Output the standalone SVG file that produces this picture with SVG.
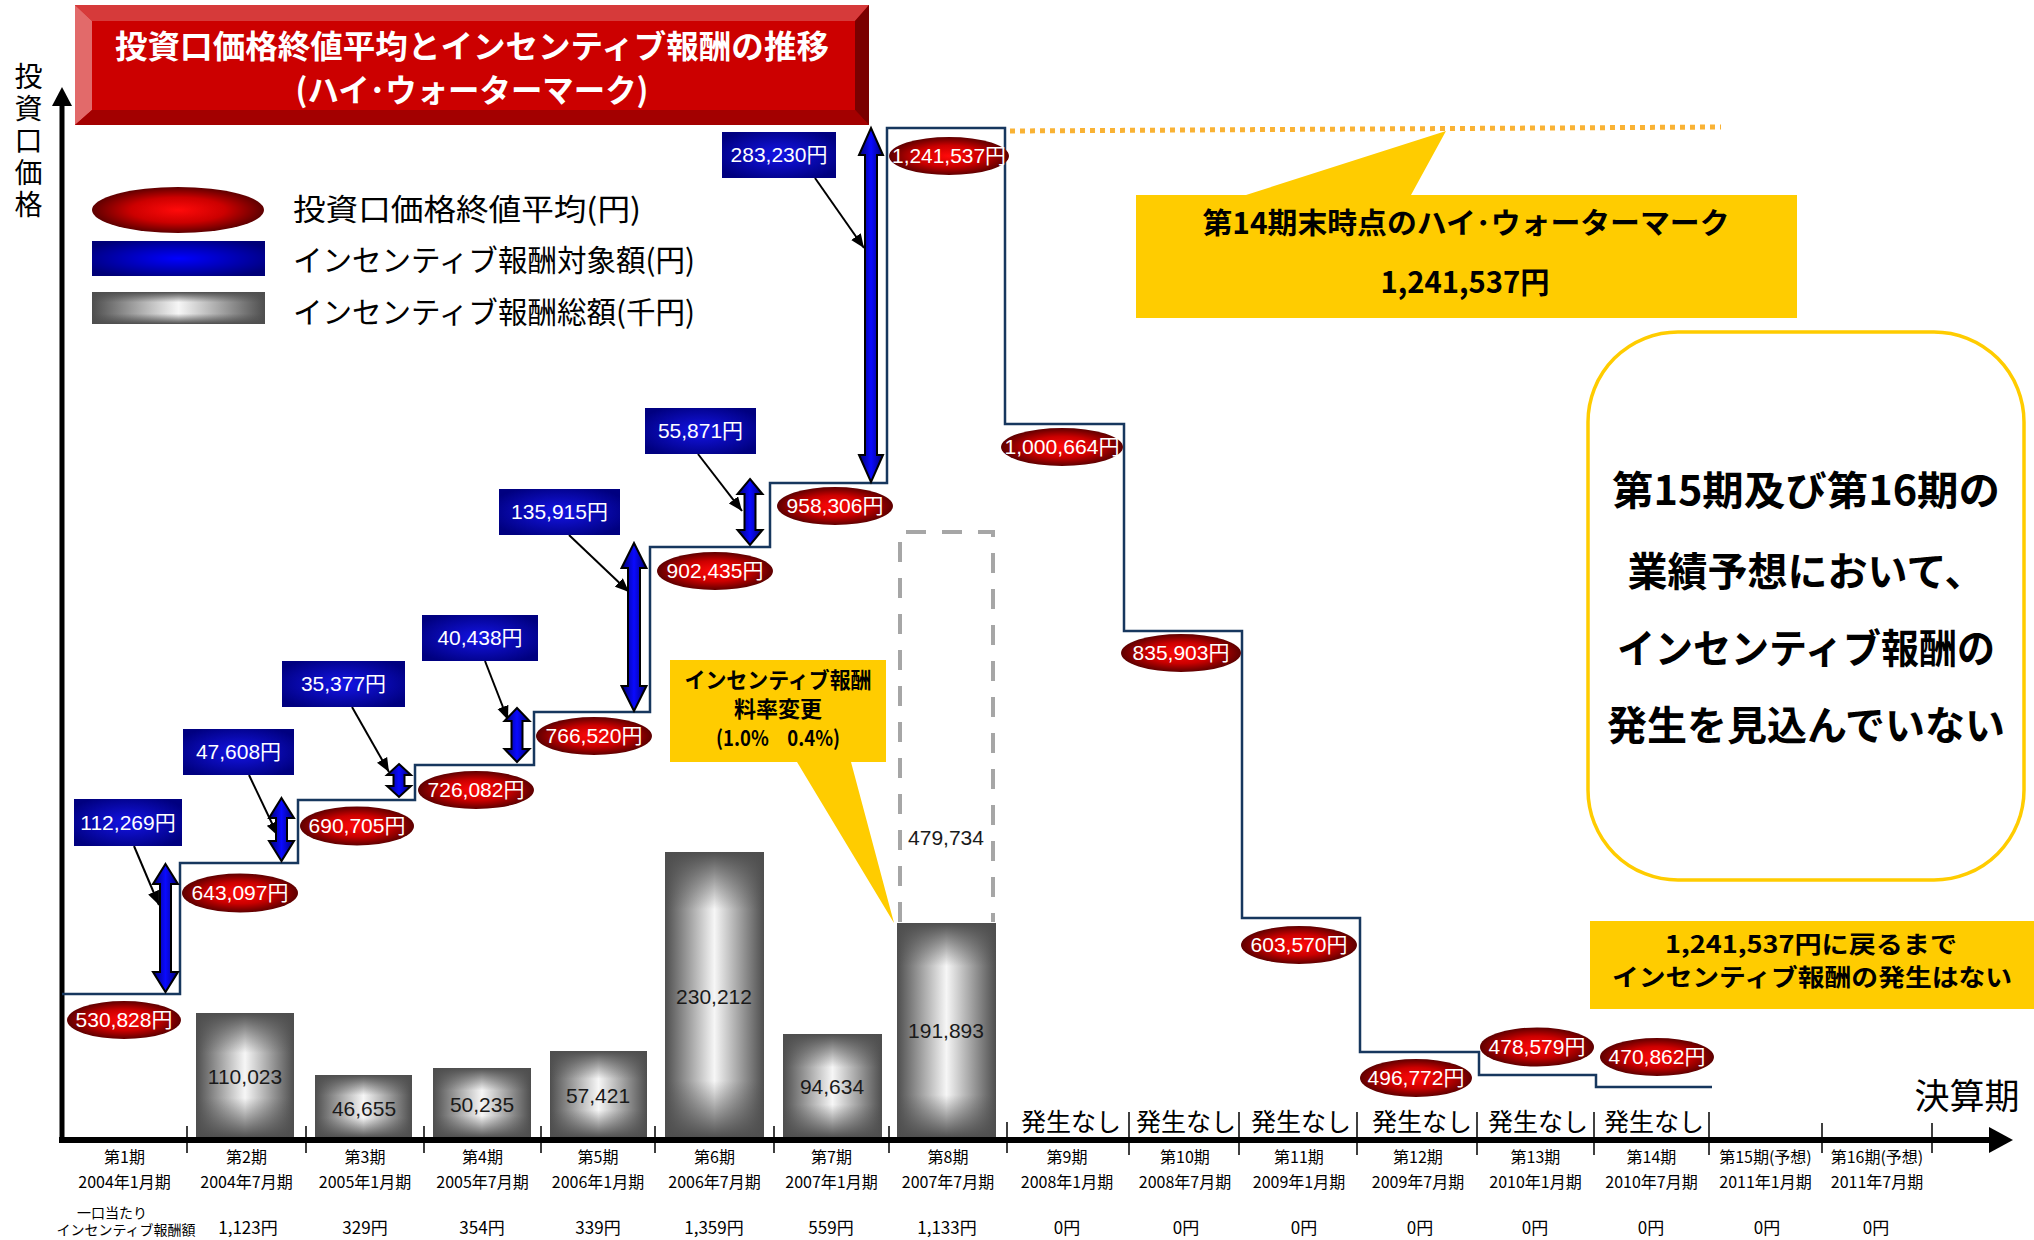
<svg xmlns="http://www.w3.org/2000/svg" width="2034" height="1240" viewBox="0 0 2034 1240">
<style>
text{font-family:"Liberation Sans","Noto Sans CJK JP",sans-serif}
.jp{font-family:"Noto Sans CJK JP","Liberation Sans",sans-serif}
.b{font-weight:bold}
.ell{fill:url(#gRed)}
.et{fill:#fff;font-size:21px;text-anchor:middle}
.bbox{fill:url(#gNavy)}
.bt{fill:#fff;font-size:21px;text-anchor:middle}
.dbl{fill:url(#gArrow);stroke:#000;stroke-width:2}
.ptr{stroke:#000;stroke-width:2;fill:none;marker-end:url(#ah)}
.barh{fill:url(#gBarH)}
.barv{fill:url(#gBarV)}
.barvt{fill:url(#gBarVt)}
.bv{font-size:21px;fill:#1a1a1a;text-anchor:middle}
.step{fill:none;stroke:#17375e;stroke-width:2.5}
.ax{font-size:16px;fill:#000;text-anchor:middle}
.val{font-size:17px;fill:#000;text-anchor:middle}
.nashi{font-size:25px;fill:#000;text-anchor:middle}
.yel{fill:#ffcc00}
.tick{stroke:#000;stroke-width:1.5}
.leg{font-size:30px;fill:#000}
</style>
<defs>
<radialGradient id="gRed" cx="0.5" cy="0.5" r="0.5">
<stop offset="0" stop-color="#ff0a0a"/><stop offset="0.55" stop-color="#cc0000"/><stop offset="1" stop-color="#5e0000"/>
</radialGradient>
<radialGradient id="gNavy" cx="0.5" cy="0.5" r="0.6">
<stop offset="0" stop-color="#1414e6"/><stop offset="1" stop-color="#000080"/>
</radialGradient>
<radialGradient id="gBlueLeg" cx="0.5" cy="0.5" r="0.6">
<stop offset="0" stop-color="#0000ff"/><stop offset="1" stop-color="#000078"/>
</radialGradient>
<linearGradient id="gArrow" x1="0" y1="0" x2="1" y2="0">
<stop offset="0" stop-color="#000070"/><stop offset="0.5" stop-color="#0a0aff"/><stop offset="1" stop-color="#000070"/>
</linearGradient>
<linearGradient id="gBarH" x1="0" y1="0" x2="1" y2="0">
<stop offset="0" stop-color="#4e4e4e"/><stop offset="0.5" stop-color="#f6f6f6"/><stop offset="1" stop-color="#4e4e4e"/>
</linearGradient>
<linearGradient id="gBarV" x1="0" y1="0" x2="0" y2="1">
<stop offset="0" stop-color="#4e4e4e" stop-opacity="1"/><stop offset="0.32" stop-color="#4e4e4e" stop-opacity="0"/><stop offset="0.68" stop-color="#4e4e4e" stop-opacity="0"/><stop offset="1" stop-color="#4e4e4e" stop-opacity="1"/>
</linearGradient>
<linearGradient id="gBarVt" x1="0" y1="0" x2="0" y2="1">
<stop offset="0" stop-color="#4e4e4e" stop-opacity="1"/><stop offset="0.2" stop-color="#4e4e4e" stop-opacity="0"/><stop offset="0.8" stop-color="#4e4e4e" stop-opacity="0"/><stop offset="1" stop-color="#4e4e4e" stop-opacity="1"/>
</linearGradient>
<marker id="ah" viewBox="0 0 12 10" refX="12" refY="5" markerWidth="7" markerHeight="6" orient="auto" markerUnits="strokeWidth">
<path d="M0,0 L12,5 L0,10 z" fill="#000"/>
</marker>
</defs>
<rect width="2034" height="1240" fill="#fff"/>

<!-- Title banner -->
<g id="title">
<rect x="75" y="5" width="794" height="120" fill="#cc0000"/>
<polygon points="75,5 869,5 855,21 92,21" fill="#d63a3a"/>
<polygon points="75,5 92,21 92,110 75,125" fill="#e26a6a"/>
<polygon points="75,125 92,110 855,110 869,125" fill="#a30000"/>
<polygon points="869,5 869,125 855,110 855,21" fill="#7a0000"/>
<text class="jp b" x="472" y="58" font-size="32" fill="#fff" text-anchor="middle" textLength="714" lengthAdjust="spacingAndGlyphs">投資口価格終値平均とインセンティブ報酬の推移</text>
<text class="jp b" x="472" y="102" font-size="32" fill="#fff" text-anchor="middle" textLength="353" lengthAdjust="spacingAndGlyphs">(ハイ･ウォーターマーク)</text>
</g>

<!-- Y axis label -->
<g id="ylabel">
<text class="jp" x="28.5" y="62" font-size="28" fill="#000" style="writing-mode:vertical-rl;letter-spacing:4px">投資口価格</text>
</g>

<!-- Legend -->
<g id="legend">
<ellipse cx="178" cy="210" rx="86" ry="23" fill="url(#gRed)"/>
<text class="jp leg" x="293" y="220" textLength="348" lengthAdjust="spacingAndGlyphs">投資口価格終値平均(円)</text>
<rect x="92" y="241" width="173" height="35" fill="url(#gBlueLeg)"/>
<text class="jp leg" x="293" y="271" textLength="402" lengthAdjust="spacingAndGlyphs">インセンティブ報酬対象額(円)</text>
<rect x="92" y="292" width="173" height="32" class="barh"/>
<rect x="92" y="292" width="173" height="32" class="barv"/>
<text class="jp leg" x="293" y="323" textLength="402" lengthAdjust="spacingAndGlyphs">インセンティブ報酬総額(千円)</text>
</g>

<!-- Bars -->
<g id="bars">
<rect x="196" y="1013" width="98" height="125" class="barh"/><rect x="196" y="1013" width="98" height="125" class="barv"/>
<rect x="315" y="1075" width="97" height="63" class="barh"/><rect x="315" y="1075" width="97" height="63" class="barv"/>
<rect x="433" y="1068" width="98" height="70" class="barh"/><rect x="433" y="1068" width="98" height="70" class="barv"/>
<rect x="550" y="1051" width="97" height="87" class="barh"/><rect x="550" y="1051" width="97" height="87" class="barv"/>
<rect x="665" y="852" width="99" height="286" class="barh"/><rect x="665" y="852" width="99" height="286" class="barvt"/>
<rect x="783" y="1034" width="99" height="104" class="barh"/><rect x="783" y="1034" width="99" height="104" class="barv"/>
<rect x="897" y="923" width="99" height="215" class="barh"/><rect x="897" y="923" width="99" height="215" class="barvt"/>
<path d="M900,922 V532 H993 V922" fill="none" stroke="#a6a6a6" stroke-width="4" stroke-dasharray="20 16"/>
<text class="bv" x="245" y="1084">110,023</text>
<text class="bv" x="364" y="1116">46,655</text>
<text class="bv" x="482" y="1112">50,235</text>
<text class="bv" x="598" y="1103">57,421</text>
<text class="bv" x="714" y="1004">230,212</text>
<text class="bv" x="832" y="1094">94,634</text>
<text class="bv" x="946" y="1038">191,893</text>
<text class="bv" x="946" y="845">479,734</text>
</g>

<!-- Axes -->
<g id="axes">
<line x1="62" y1="1143" x2="62" y2="104" stroke="#000" stroke-width="5"/>
<polygon points="52,106 62,87 72,106" fill="#000"/>
<line x1="59" y1="1140" x2="1992" y2="1140" stroke="#000" stroke-width="6"/>
<polygon points="1989,1127 2013,1140 1989,1153" fill="#000"/>
<g class="tick">
<line x1="187" y1="1126" x2="187" y2="1153"/><line x1="306" y1="1126" x2="306" y2="1153"/>
<line x1="424" y1="1126" x2="424" y2="1153"/><line x1="541" y1="1126" x2="541" y2="1153"/>
<line x1="655" y1="1126" x2="655" y2="1153"/><line x1="774" y1="1126" x2="774" y2="1153"/>
<line x1="889" y1="1126" x2="889" y2="1153"/><line x1="1007" y1="1122" x2="1007" y2="1153"/>
<line x1="1129" y1="1112" x2="1129" y2="1155"/><line x1="1239" y1="1112" x2="1239" y2="1155"/>
<line x1="1357" y1="1112" x2="1357" y2="1155"/><line x1="1477" y1="1112" x2="1477" y2="1155"/>
<line x1="1594" y1="1112" x2="1594" y2="1155"/><line x1="1709" y1="1112" x2="1709" y2="1155"/>
<line x1="1822" y1="1123" x2="1822" y2="1153"/><line x1="1932" y1="1123" x2="1932" y2="1153"/>
</g>
<text class="jp" x="1967" y="1109" font-size="35" fill="#000" text-anchor="middle">決算期</text>
</g>

<!-- Step line -->
<g id="connectors">
<path class="step" d="M62,994 H180 V863 H298 V800 H415 V765 H534 V712 H650 V547 H770 V483 H887 V128 H1005 V424 H1124 V631 H1242 V918 H1360 V1052 H1479 V1075 H1596 V1087 H1712"/>
<line x1="1010" y1="131" x2="1721" y2="127" stroke="#f9b234" stroke-width="5" stroke-dasharray="5 5"/>
<line class="ptr" x1="134" y1="846" x2="159" y2="905"/>
<line class="ptr" x1="249" y1="775" x2="278" y2="836"/>
<line class="ptr" x1="352" y1="707" x2="389" y2="772"/>
<line class="ptr" x1="485" y1="661" x2="508" y2="720"/>
<line class="ptr" x1="569" y1="535" x2="629" y2="592"/>
<line class="ptr" x1="698" y1="454" x2="742" y2="511"/>
<line class="ptr" x1="815" y1="178" x2="864" y2="248"/>
</g>

<!-- Double arrows -->
<g id="arrows">
<polygon class="dbl" points="165.5,864 178,884 171,884 171,972 178,972 165.5,992 153,972 160,972 160,884 153,884"/>
<polygon class="dbl" points="281.5,798 294,818 287,818 287,841 294,841 281.5,861 269,841 276,841 276,818 269,818"/>
<polygon class="dbl" points="399,764 411,775 404.5,775 404.5,786 411,786 399,797 387,786 393.5,786 393.5,775 387,775"/>
<polygon class="dbl" points="517,708 529.5,721 522.5,721 522.5,749 529.5,749 517,762 504.5,749 511.5,749 511.5,721 504.5,721"/>
<polygon class="dbl" points="634,543 646.5,568 640,568 640,686 646.5,686 634,711 621.5,686 628,686 628,568 621.5,568"/>
<polygon class="dbl" points="750,479 762.5,494 755.5,494 755.5,530 762.5,530 750,545 737.5,530 744.5,530 744.5,494 737.5,494"/>
<polygon class="dbl" points="871,128 883,155 877,155 877,455 883,455 871,482 859,455 865,455 865,155 859,155"/>
</g>

<!-- Blue value boxes -->
<g id="b1"><rect class="bbox" x="74" y="799" width="108" height="47"/><text class="bt" x="128" y="830">112,269円</text></g>
<g id="b2"><rect class="bbox" x="183" y="729" width="111" height="46"/><text class="bt" x="238.5" y="759">47,608円</text></g>
<g id="b3"><rect class="bbox" x="282" y="661" width="123" height="46"/><text class="bt" x="343.5" y="691">35,377円</text></g>
<g id="b4"><rect class="bbox" x="422" y="615" width="116" height="46"/><text class="bt" x="480" y="645">40,438円</text></g>
<g id="b5"><rect class="bbox" x="499" y="489" width="121" height="46"/><text class="bt" x="559.5" y="519">135,915円</text></g>
<g id="b6"><rect class="bbox" x="645" y="408" width="111" height="46"/><text class="bt" x="700.5" y="438">55,871円</text></g>
<g id="b7"><rect class="bbox" x="722" y="132" width="114" height="46"/><text class="bt" x="779" y="162">283,230円</text></g>

<!-- Price ellipses -->
<g id="e1"><ellipse class="ell" cx="124" cy="1020" rx="57" ry="19"/><text class="et" x="124" y="1027">530,828円</text></g>
<g id="e2"><ellipse class="ell" cx="240" cy="893" rx="58" ry="19.5"/><text class="et" x="240" y="900">643,097円</text></g>
<g id="e3"><ellipse class="ell" cx="357" cy="826" rx="57" ry="19.5"/><text class="et" x="357" y="833">690,705円</text></g>
<g id="e4"><ellipse class="ell" cx="476" cy="790" rx="58" ry="19"/><text class="et" x="476" y="797">726,082円</text></g>
<g id="e5"><ellipse class="ell" cx="594" cy="736" rx="58" ry="19"/><text class="et" x="594" y="743">766,520円</text></g>
<g id="e6"><ellipse class="ell" cx="715" cy="571" rx="58" ry="19"/><text class="et" x="715" y="578">902,435円</text></g>
<g id="e7"><ellipse class="ell" cx="835" cy="506" rx="58" ry="19"/><text class="et" x="835" y="513">958,306円</text></g>
<g id="e8"><ellipse class="ell" cx="949" cy="156" rx="60" ry="19"/><text class="et" x="949" y="163" textLength="114" lengthAdjust="spacingAndGlyphs">1,241,537円</text></g>
<g id="e9"><ellipse class="ell" cx="1062" cy="447" rx="61" ry="19"/><text class="et" x="1062" y="454" textLength="115" lengthAdjust="spacingAndGlyphs">1,000,664円</text></g>
<g id="e10"><ellipse class="ell" cx="1181" cy="653" rx="60" ry="19"/><text class="et" x="1181" y="660">835,903円</text></g>
<g id="e11"><ellipse class="ell" cx="1299" cy="945" rx="58" ry="19"/><text class="et" x="1299" y="952">603,570円</text></g>
<g id="e12"><ellipse class="ell" cx="1416" cy="1078" rx="56" ry="19"/><text class="et" x="1416" y="1085">496,772円</text></g>
<g id="e13"><ellipse class="ell" cx="1537" cy="1047" rx="57" ry="19.5"/><text class="et" x="1537" y="1054">478,579円</text></g>
<g id="e14"><ellipse class="ell" cx="1657" cy="1057" rx="57" ry="19"/><text class="et" x="1657" y="1064">470,862円</text></g>

<!-- Callout: rate change -->
<g id="callout-rate">
<polygon class="yel" points="670,660 886,660 886,762 851,762 894,923 797,762 670,762"/>
<text class="jp b" x="778" y="688" font-size="22" fill="#000" text-anchor="middle" textLength="187" lengthAdjust="spacingAndGlyphs">インセンティブ報酬</text>
<text class="jp b" x="778" y="717" font-size="22" fill="#000" text-anchor="middle">料率変更</text>
<text class="jp b" x="778" y="746" font-size="21" fill="#000" text-anchor="middle" textLength="124" lengthAdjust="spacingAndGlyphs">(1.0%　0.4%)</text>
</g>

<!-- Callout: high water mark -->
<g id="callout-hwm">
<polygon class="yel" points="1136,195 1246,195 1446,131 1411,195 1797,195 1797,318 1136,318"/>
<text class="jp b" x="1466" y="234" font-size="29" fill="#000" text-anchor="middle" textLength="527" lengthAdjust="spacingAndGlyphs">第14期末時点のハイ･ウォーターマーク</text>
<text class="jp b" x="1465" y="293" font-size="30" fill="#000" text-anchor="middle" textLength="169" lengthAdjust="spacingAndGlyphs">1,241,537円</text>
</g>

<!-- Forecast note -->
<g id="note-forecast">
<rect x="1588" y="332" width="436" height="548" rx="90" ry="90" fill="#fff" stroke="#ffcc00" stroke-width="3.5"/>
<text class="jp b" x="1806" y="505" font-size="40" fill="#000" text-anchor="middle" textLength="388" lengthAdjust="spacingAndGlyphs">第15期及び第16期の</text>
<text class="jp b" x="1806" y="586" font-size="40" fill="#000" text-anchor="middle">業績予想において、</text>
<text class="jp b" x="1806" y="663" font-size="40" fill="#000" text-anchor="middle" textLength="378" lengthAdjust="spacingAndGlyphs">インセンティブ報酬の</text>
<text class="jp b" x="1806" y="740" font-size="40" fill="#000" text-anchor="middle">発生を見込んでいない</text>
</g>

<!-- Return note -->
<g id="note-return">
<rect class="yel" x="1590" y="921" width="444" height="88"/>
<text class="jp b" x="1811" y="953" font-size="24" fill="#000" text-anchor="middle" textLength="292" lengthAdjust="spacingAndGlyphs">1,241,537円に戻るまで</text>
<text class="jp b" x="1812" y="986" font-size="24" fill="#000" text-anchor="middle" textLength="400" lengthAdjust="spacingAndGlyphs">インセンティブ報酬の発生はない</text>
</g>

<!-- No-occurrence labels -->
<g id="nashi" class="jp">
<text class="nashi" x="1071" y="1131">発生なし</text>
<text class="nashi" x="1186" y="1131">発生なし</text>
<text class="nashi" x="1301" y="1131">発生なし</text>
<text class="nashi" x="1422" y="1131">発生なし</text>
<text class="nashi" x="1538" y="1131">発生なし</text>
<text class="nashi" x="1654" y="1131">発生なし</text>
</g>

<!-- Period labels -->
<g id="periods">
<text class="jp ax" x="124.5" y="1163">第1期</text><text class="jp ax" x="124.5" y="1188">2004年1月期</text>
<text class="jp ax" x="246.5" y="1163">第2期</text><text class="jp ax" x="246.5" y="1188">2004年7月期</text>
<text class="jp ax" x="365" y="1163">第3期</text><text class="jp ax" x="365" y="1188">2005年1月期</text>
<text class="jp ax" x="482.5" y="1163">第4期</text><text class="jp ax" x="482.5" y="1188">2005年7月期</text>
<text class="jp ax" x="598" y="1163">第5期</text><text class="jp ax" x="598" y="1188">2006年1月期</text>
<text class="jp ax" x="714.5" y="1163">第6期</text><text class="jp ax" x="714.5" y="1188">2006年7月期</text>
<text class="jp ax" x="831.5" y="1163">第7期</text><text class="jp ax" x="831.5" y="1188">2007年1月期</text>
<text class="jp ax" x="948" y="1163">第8期</text><text class="jp ax" x="948" y="1188">2007年7月期</text>
<text class="jp ax" x="1067" y="1163">第9期</text><text class="jp ax" x="1067" y="1188">2008年1月期</text>
<text class="jp ax" x="1185" y="1163">第10期</text><text class="jp ax" x="1185" y="1188">2008年7月期</text>
<text class="jp ax" x="1299" y="1163">第11期</text><text class="jp ax" x="1299" y="1188">2009年1月期</text>
<text class="jp ax" x="1418" y="1163">第12期</text><text class="jp ax" x="1418" y="1188">2009年7月期</text>
<text class="jp ax" x="1535.5" y="1163">第13期</text><text class="jp ax" x="1535.5" y="1188">2010年1月期</text>
<text class="jp ax" x="1651.5" y="1163">第14期</text><text class="jp ax" x="1651.5" y="1188">2010年7月期</text>
<text class="jp ax" x="1765.5" y="1163">第15期(予想)</text><text class="jp ax" x="1765.5" y="1188">2011年1月期</text>
<text class="jp ax" x="1877" y="1163">第16期(予想)</text><text class="jp ax" x="1877" y="1188">2011年7月期</text>
</g>

<!-- Per-unit incentive fee row -->
<g id="perunit">
<text class="jp" x="112" y="1218" font-size="14" fill="#000" text-anchor="middle">一口当たり</text>
<text class="jp" x="126" y="1235" font-size="14" fill="#000" text-anchor="middle">インセンティブ報酬額</text>
<text class="jp val" x="248" y="1234">1,123円</text>
<text class="jp val" x="365" y="1234">329円</text>
<text class="jp val" x="482" y="1234">354円</text>
<text class="jp val" x="598" y="1234">339円</text>
<text class="jp val" x="714" y="1234">1,359円</text>
<text class="jp val" x="831" y="1234">559円</text>
<text class="jp val" x="947" y="1234">1,133円</text>
<text class="jp val" x="1067" y="1234">0円</text>
<text class="jp val" x="1186" y="1234">0円</text>
<text class="jp val" x="1304" y="1234">0円</text>
<text class="jp val" x="1420" y="1234">0円</text>
<text class="jp val" x="1535" y="1234">0円</text>
<text class="jp val" x="1651" y="1234">0円</text>
<text class="jp val" x="1767" y="1234">0円</text>
<text class="jp val" x="1876" y="1234">0円</text>
</g>
</svg>
